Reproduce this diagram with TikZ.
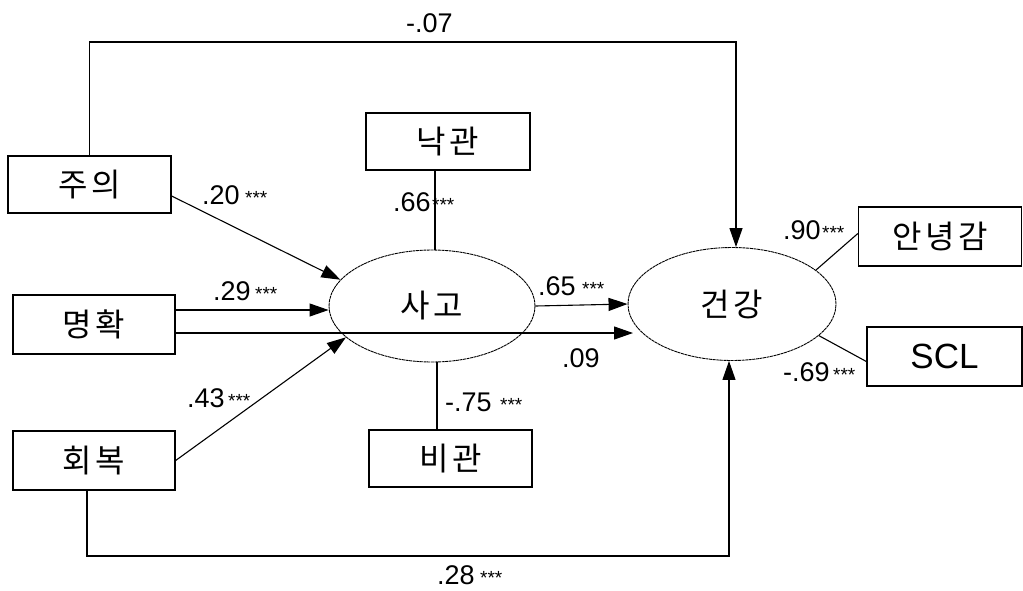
\documentclass[tikz,border=0pt]{standalone}
\usepackage{fontspec}
\setmainfont{Liberation Sans}
\newfontfamily\kr[LetterSpace=12]{Noto Sans CJK KR}
\usetikzlibrary{arrows.meta,calc,shapes.geometric}
\tikzset{
  box/.style={draw,line width=1.3pt,rectangle,inner sep=0pt,font=\kr\fontsize{32}{34}\selectfont},
  lat/.style={draw,line width=0.9pt,dash pattern=on 3pt off 0.6pt,ellipse,inner sep=0pt,font=\kr\fontsize{32}{34}\selectfont},
  con/.style={line width=1.1pt},
  arr/.style={con,-{Triangle[length=19pt,width=13pt]}},
  num/.style={anchor=base west,inner sep=0pt,font=\fontsize{27}{28}\selectfont},
  star/.style={anchor=base west,inner sep=0pt,font=\fontsize{19}{20}\selectfont},
}
\begin{document}
\begin{tikzpicture}[x=1pt,y=-1pt]
\useasboundingbox[fill=white] (0,0) rectangle (1023,590);
% observed variables
\node[box,minimum width=163pt,minimum height=57pt] (juui) at (89.5,184.5) {주의};
\node[box,minimum width=162pt,minimum height=59pt] (myeong) at (94,324.5) {명확};
\node[box,minimum width=162pt,minimum height=59pt] (hoebok) at (94,460.5) {회복};
\node[box,minimum width=164pt,minimum height=57pt] (nak) at (448,141.5) {낙관};
\node[box,minimum width=163pt,minimum height=57pt] (bi) at (450.5,458.5) {비관};
\node[box,minimum width=163pt,minimum height=59pt] (anyeong) at (940,236.5) {안녕감};
\node[box,minimum width=155pt,minimum height=59pt,font=\fontsize{35}{36}\selectfont] (scl) at (944.5,356.5) {SCL};
% latent variables
\node[lat,minimum width=206pt,minimum height=112pt] (sago) at (432,306) {사고};
\node[lat,minimum width=208pt,minimum height=113pt] (health) at (732,304) {건강};
% helper coordinates
\coordinate (top) at (0,42);
\coordinate (bot) at (0,556);
\coordinate (e09) at (633,333);
% connectors
\draw[arr] (juui.north) -- (juui.north |- top) -| ([xshift=4pt]health.north);
\draw[arr] ([yshift=-11.5pt]juui.east) -- (sago.164);
\draw[arr] ([yshift=14.5pt]myeong.east) -- ([yshift=14.5pt]myeong.east -| sago.west);
\draw[arr] ([yshift=-8.5pt]myeong.east) -- (e09);
\draw[arr] (hoebok.east) -- (sago.200);
\draw[arr] ([xshift=-7pt]hoebok.south) -- ([xshift=-7pt]hoebok.south |- bot) -| ([xshift=-3pt]health.south);
\draw[con] ([xshift=3pt]sago.north) -- ([xshift=3pt]sago.north |- nak.south);
\draw[con] ([xshift=5pt]sago.south) -- ([xshift=5pt]sago.south |- bi.north);
\draw[arr] (sago.east) -- (health.west);
\draw[con] (health.22) -- ([yshift=3pt]anyeong.west);
\draw[con] (health.-20) -- ([yshift=-5pt]scl.west);
% labels
\node[num] (l07) at (406,32) {-.07};
\node[num] (l20) at (202,204) {.20};
\node[star] at (245,204) {***};
\node[num] (l29) at (213,300) {.29};
\node[star] at (255,300) {***};
\node[num] (l43) at (187,407) {.43};
\node[star] at (228,407) {***};
\node[num] (l66) at (393,211) {.66};
\node[star] at (432,211) {***};
\node[num] (l75) at (445,411) {-.75};
\node[star] at (500,411) {***};
\node[num] (l65) at (538,295) {.65};
\node[star] at (582,295) {***};
\node[num] (l09) at (562,367) {.09};
\node[num] (l28) at (437,584) {.28};
\node[star] at (480,584) {***};
\node[num] (l90) at (783,239) {.90};
\node[star] at (822,239) {***};
\node[num] (l69) at (783,381) {-.69};
\node[star] at (833,381) {***};
\end{tikzpicture}
\end{document}
